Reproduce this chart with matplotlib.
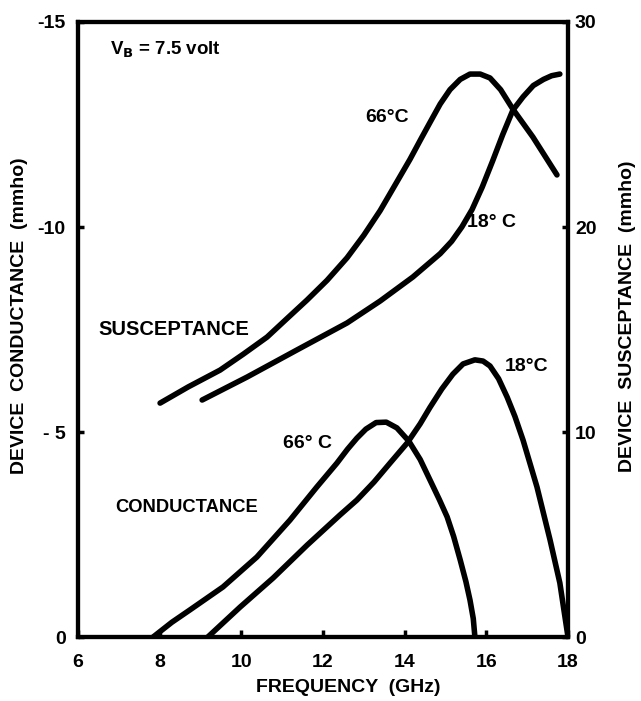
import matplotlib
matplotlib.use("Agg")
import matplotlib.pyplot as plt

# frequency (GHz) / conductance (mmho)
freq_g66 = [7.84, 8.3, 8.74, 9.55, 10.38, 11.19, 11.85, 12.34, 12.6, 12.83, 13.05, 13.3, 13.55, 13.81, 14.1, 14.38,
            14.62, 14.85, 15.04, 15.2, 15.36, 15.5, 15.60, 15.68, 15.72]
cond_g66 = [0, -0.36, -0.66, -1.22, -1.95, -2.85, -3.66, -4.24, -4.58, -4.85, -5.07, -5.23, -5.24, -5.1, -4.78, -4.33,
            -3.83, -3.35, -2.93, -2.45, -1.88, -1.35, -0.90, -0.45, 0]

freq_g18 = [9.18, 9.97, 10.78, 11.61, 12.42, 12.83, 13.25, 13.64, 14.06, 14.38, 14.62, 14.91, 15.18, 15.43, 15.72, 15.92,
            16.09, 16.3, 16.51, 16.7, 16.90, 17.24, 17.56, 17.80, 18.0]
cond_g18 = [0, -0.73, -1.44, -2.24, -2.98, -3.34, -3.78, -4.24, -4.73, -5.2, -5.6, -6.05, -6.41, -6.66, -6.76, -6.73,
            -6.61, -6.3, -5.85, -5.38, -4.80, -3.66, -2.37, -1.32, 0]

# frequency (GHz) / susceptance (mmho)
freq_b66 = [8.01, 8.7, 9.48, 10.05, 10.63, 11.1, 11.61, 12.1, 12.59, 13.0, 13.4, 13.78, 14.13, 14.4, 14.62, 14.87,
            15.11, 15.36, 15.60, 15.85, 16.09, 16.35, 16.65, 17.14, 17.73]
susc_b66 = [11.41, 12.2, 13.02, 13.8, 14.63, 15.5, 16.44, 17.4, 18.5, 19.6, 20.8, 22.1, 23.3, 24.3, 25.1, 26.0,
            26.7, 27.2, 27.46, 27.46, 27.27, 26.7, 25.75, 24.39, 22.54]

freq_b18 = [9.04, 10.14, 11.36, 12.59, 13.40, 14.20, 14.87, 15.15, 15.4, 15.65, 15.9, 16.15, 16.4, 16.65, 16.9, 17.15,
            17.4, 17.6, 17.80]
susc_b18 = [11.56, 12.68, 14.0, 15.32, 16.39, 17.56, 18.7, 19.3, 20.0, 20.85, 21.95, 23.2, 24.5, 25.7, 26.35, 26.9,
            27.2, 27.38, 27.46]

xticks = [6, 8, 10, 12, 14, 16, 18]
gticks = [0, -5, -10, -15]
bticks = [0, 10, 20, 30]

narrow = ['Liberation Sans Narrow', 'Liberation Sans', 'DejaVu Sans']
wide = ['Liberation Sans', 'DejaVu Sans']

fig = plt.figure(figsize=(6.41, 7.01), dpi=100)
ax = fig.add_axes([78/641, 1-637/701, 490/641, 615/701])
ax2 = ax.twinx()

kw = dict(color='black', lw=4.0, solid_capstyle='round', solid_joinstyle='round')
ax.plot(freq_g66, cond_g66, **kw)
ax.plot(freq_g18, cond_g18, **kw)
ax2.plot(freq_b66, susc_b66, **kw)
ax2.plot(freq_b18, susc_b18, **kw)

ax.set_xlim(6, 18)
ax.set_ylim(0, -15)
ax2.set_ylim(0, 30)

ax.set_xticks(xticks)
ax.set_yticks(gticks)
ax2.set_yticks(bticks)
ax.set_yticklabels(['- 5' if v == -5 else str(v) for v in gticks])

for a in (ax, ax2):
    for s in a.spines.values():
        s.set_linewidth(3)
ax.tick_params(axis='x', direction='in', length=5, width=2.5, pad=12)
ax.tick_params(axis='y', direction='in', length=4, width=2.5, pad=9)
ax2.tick_params(axis='y', direction='in', length=4, width=2.5, pad=5)
for lab in ax.get_xticklabels() + ax.get_yticklabels() + ax2.get_yticklabels():
    lab.set_family(narrow)
    lab.set_fontweight('bold')
    lab.set_fontsize(14)

# labels on the plot
ax.text(6.78, -14.32, 'V$_\\mathbf{B}$ = 7.5 volt', family=wide, fontweight='bold', fontsize=13.5, ha='left', va='center')
ax.text(13.57, -12.68, '66°C', family=wide, fontweight='bold', fontsize=14, ha='center', va='center')
ax.text(16.12, -10.12, '18° C', family=wide, fontweight='bold', fontsize=14, ha='center', va='center')
ax.text(6.49, -7.49, 'SUSCEPTANCE', family=wide, fontweight='bold', fontsize=14.5, ha='left', va='center')
ax.text(6.91, -3.17, 'CONDUCTANCE', family=narrow, fontweight='bold', fontsize=13.2, ha='left', va='center')
ax.text(11.02, -4.73, '66° C', family=wide, fontweight='bold', fontsize=14, ha='left', va='center')
ax.text(16.46, -6.59, '18°C', family=wide, fontweight='bold', fontsize=14, ha='left', va='center')

fig.text(348/641, 1-688/701, 'FREQUENCY  (GHz)', family=narrow, fontweight='bold', fontsize=14, ha='center', va='center')
fig.text(20/641, 1-316/701, 'DEVICE  CONDUCTANCE  (mmho)', family=narrow, fontweight='bold', fontsize=14, rotation=90, ha='center', va='center')
fig.text(627/641, 1-316/701, 'DEVICE  SUSCEPTANCE  (mmho)', family=narrow, fontweight='bold', fontsize=14, rotation=90, ha='center', va='center')

fig.savefig('out.png', dpi=100)
